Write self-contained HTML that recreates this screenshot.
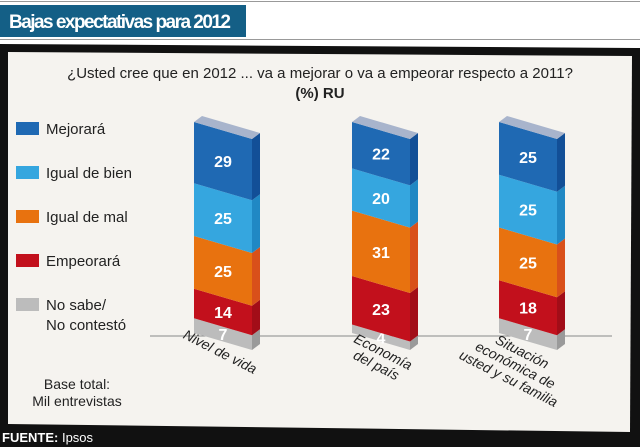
<!DOCTYPE html>
<html><head><meta charset="utf-8"><style>
body{margin:0;width:640px;height:447px;overflow:hidden;background:#fff;font-family:"Liberation Sans",sans-serif}
svg{display:block}
</style></head><body>
<svg id="chart" width="640" height="447" viewBox="0 0 640 447">
<line x1="0" y1="1.5" x2="640" y2="1.5" stroke="#999"/>
<rect x="0" y="5" width="246" height="32" fill="#145f86"/>
<text x="9" y="28" fill="#fff" font-size="19" font-weight="bold" font-family="Liberation Sans Narrow, Liberation Sans, sans-serif" textLength="222">Bajas expectativas para 2012</text>
<line x1="0" y1="39.5" x2="640" y2="39.5" stroke="#999"/>
<polygon points="0,44 640,48 640,447 0,447" fill="#111"/>
<polygon points="8,52 632,56 630,432 8,424" fill="#f5f3ef"/>
<text x="320" y="78" text-anchor="middle" font-size="15" fill="#222">¿Usted cree que en 2012 ... va a mejorar o va a empeorar respecto a 2011?</text>
<text x="320" y="98" text-anchor="middle" font-size="15" font-weight="bold" fill="#222">(%) RU</text>
<line x1="150" y1="336" x2="612" y2="336" stroke="#888"/>
<g id="legend"></g>
<g id="bars"></g>
<text x="77" y="389" text-anchor="middle" font-size="14" fill="#222"><tspan x="77">Base total:</tspan><tspan x="77" dy="17">Mil entrevistas</tspan></text>
<text x="2" y="442" font-size="13" fill="#fff"><tspan font-weight="bold">FUENTE:</tspan> Ipsos</text>
</svg>
<script>
const categories=[["Nivel de vida"],["Economía","del país"],["Situación","económica de","usted y su familia"]];
const seriesNames=["Mejorará","Igual de bien","Igual de mal","Empeorará","No sabe/|No contestó"];
const mejorara=[29,22,25];
const igualBien=[25,20,25];
const igualMal=[25,31,25];
const empeorara=[14,23,18];
const noSabe=[7,4,7];
const series=[mejorara,igualBien,igualMal,empeorara,noSabe];
const front=["#1f69b3","#35a6df","#e8720f","#c2101c","#bcbcbc"];
const side=["#124f97","#2088c4","#d9501a","#a20d18","#9a9a9a"];
const NS="http://www.w3.org/2000/svg";
function mk(t,a,p){const e=document.createElementNS(NS,t);for(const k in a)e.setAttribute(k,a[k]);p.appendChild(e);return e;}
const barX=[194,352,499];
const W=58,SW=8,SLOPE=17,RISE=6;
const baseY=333, scale=2.11;
function y(v){return baseY-v*scale;}
const bars=document.getElementById('bars');
categories.forEach((c,i)=>{
  const g=mk('g',{},bars);
  
  
  const x0=barX[i],x1=x0+W,x2=x1+SW;
  let cum=0;
  for(let s=4;s>=0;s--){
    const v=series[s][i];
    const yb=y(cum),yt=y(cum+v);
    const f=mk('polygon',{points:`${x0},${yt} ${x1},${yt+SLOPE} ${x1},${yb+SLOPE} ${x0},${yb}`,fill:front[s]},g);
    
    
    const sd=mk('polygon',{points:`${x1},${yt+SLOPE} ${x2},${yt+SLOPE-RISE} ${x2},${yb+SLOPE-RISE} ${x1},${yb+SLOPE}`,fill:side[s]},g);
    
    
    const t=mk('text',{x:x0+W/2,y:(yt+yb)/2+SLOPE/2+6,'text-anchor':'middle','font-size':16,'font-weight':'bold',fill:'#fff'},g);
    t.textContent=v;
    
    
    cum+=v;
  }
  const yt=y(cum);
  const top=mk('polygon',{points:`${x0},${yt} ${x0+SW},${yt-RISE} ${x2},${yt+SLOPE-RISE} ${x1},${yt+SLOPE}`,fill:"#a8b4cc"},g);
  
  
  const lx=x0+W/2+(i==0?-5:i==1?0:-8), ly=356;
  const lt=mk('text',{transform:`translate(${lx},${ly}) rotate(27)`,'text-anchor':'middle','font-size':14,'font-style':'italic',fill:'#222'},g);
  
  
  c.forEach((line,k)=>{const ts=mk('tspan',{x:0,dy:k?15:0},lt);ts.textContent=line;});
});
const leg=document.getElementById('legend');
seriesNames.forEach((n,s)=>{
  const yy=122+s*44;
  const g=mk('g',{},leg);
  
  
  const r=mk('rect',{x:16,y:yy,width:23,height:13,fill:front[s]},g);
  
  
  const t=mk('text',{x:46,y:yy+12,'font-size':15,fill:'#222'},g);
  
  
  n.split('|').forEach((line,k)=>{const ts=mk('tspan',{x:46,dy:k?20:0},t);ts.textContent=line;});
});
</script>
</body></html>
